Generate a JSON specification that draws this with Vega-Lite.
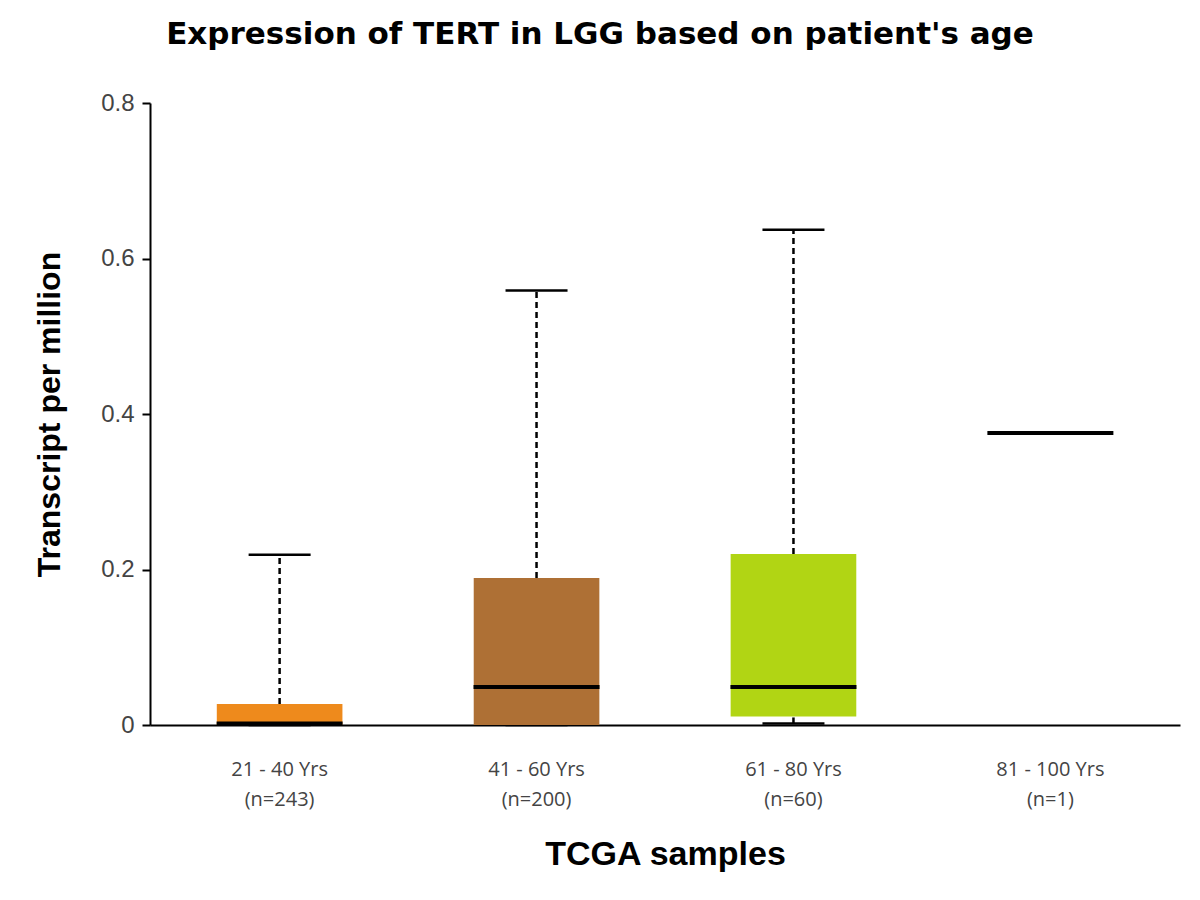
{
  "$schema": "https://vega.github.io/schema/vega-lite/v6.json",
  "width": 1030,
  "height": 622,
  "autosize": "none",
  "padding": {"left": 150, "top": 103, "right": 20, "bottom": 175},
  "background": "white",
  "config": {"view": {"stroke": null}},
  "title": {"text": "Expression of TERT in LGG based on patient's age", "font": "DejaVu Sans", "fontSize": 31, "fontWeight": "bold", "color": "black", "anchor": "middle", "dx": -65, "offset": 40},
  "data": {"values": [
    {"group": "21 - 40 Yrs|(n=243)", "lower": 0, "q1": 0, "median": 0.002, "q3": 0.027, "upper": 0.219, "color": "#EE8A1C"},
    {"group": "41 - 60 Yrs|(n=200)", "lower": 0, "q1": 0, "median": 0.049, "q3": 0.189, "upper": 0.559, "color": "#AE7035"},
    {"group": "61 - 80 Yrs|(n=60)", "lower": 0.002, "q1": 0.011, "median": 0.049, "q3": 0.22, "upper": 0.637, "color": "#B1D514"},
    {"group": "81 - 100 Yrs|(n=1)", "lower": null, "q1": null, "median": 0.3756, "q3": null, "upper": null, "color": "#000000"}
  ]},
  "encoding": {
    "x": {"field": "group", "type": "nominal", "sort": null,
      "scale": {"paddingInner": 0.511, "paddingOuter": 0.26},
      "axis": {"title": "TCGA samples", "titleFont": "Liberation Sans", "titleFontSize": 34, "titleFontWeight": "bold", "titleColor": "black", "titlePadding": 28,
        "labelExpr": "split(datum.value, '|')", "labelAngle": 0, "labelFont": "Open Sans", "labelFontSize": 20, "labelColor": "#444", "labelPadding": 34, "labelLineHeight": 30,
        "ticks": false, "domainColor": "black", "domainWidth": 2}}
  },
  "layer": [
    {"mark": {"type": "rule", "strokeDash": [6, 4], "strokeWidth": 2.5, "color": "black"},
     "encoding": {"y": {"field": "q3", "type": "quantitative"}, "y2": {"field": "upper"}}},
    {"mark": {"type": "rule", "strokeDash": [6, 4], "strokeWidth": 2.5, "color": "black"},
     "encoding": {"y": {"field": "lower", "type": "quantitative"}, "y2": {"field": "q1"}}},
    {"mark": {"type": "tick", "size": 62, "thickness": 2.5, "color": "black", "opacity": 1},
     "encoding": {"y": {"field": "upper", "type": "quantitative"}}},
    {"mark": {"type": "tick", "size": 62, "thickness": 2.5, "color": "black", "opacity": 1},
     "encoding": {"y": {"field": "lower", "type": "quantitative"}}},
    {"mark": {"type": "bar"},
     "encoding": {
       "y": {"field": "q1", "type": "quantitative",
         "scale": {"domain": [0, 0.8], "nice": false},
         "axis": {"title": "Transcript per million", "titleFont": "Liberation Sans", "titleFontSize": 32, "titleFontWeight": "bold", "titleColor": "black", "titlePadding": 34,
           "values": [0, 0.2, 0.4, 0.6, 0.8], "labelExpr": "datum.value == 0 ? '0' : format(datum.value, '.1f')", "labelFont": "Liberation Sans", "labelFontSize": 24, "labelColor": "#444", "labelPadding": 8,
           "grid": false, "tickColor": "black", "tickWidth": 2, "tickSize": 8, "domainColor": "black", "domainWidth": 2}},
       "y2": {"field": "q3"},
       "color": {"field": "color", "type": "nominal", "scale": null}}},
    {"mark": {"type": "tick", "size": 126, "thickness": 4, "color": "black", "opacity": 1},
     "encoding": {"y": {"field": "median", "type": "quantitative"}}}
  ]
}
